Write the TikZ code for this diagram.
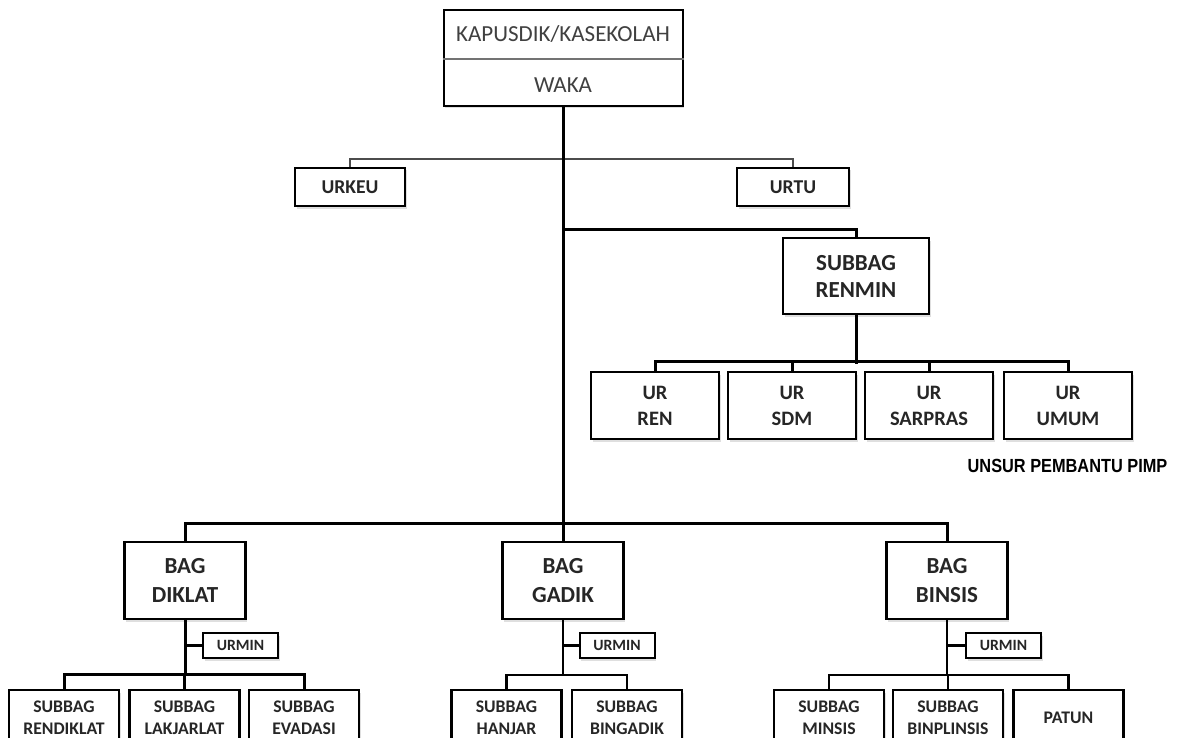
\documentclass[tikz,border=0pt]{standalone}
\usepackage{fontspec}
\usepackage{graphicx}
\setmainfont{Carlito}
\newfontfamily\arialfont{Liberation Sans}
\usetikzlibrary{shadows}
\definecolor{txt}{HTML}{262626}
\begin{document}
\begin{tikzpicture}[x=1pt,y=-1pt,
  bx/.style={draw=black, line width=2.2pt, fill=white, align=center, inner sep=0pt,
    text=txt, font=\bfseries,
    drop shadow={shadow xshift=1.5pt, shadow yshift=-2.5pt, opacity=.25}},
  mainline/.style={line width=3pt, black},
  subline/.style={line width=2.5pt, black},
  thinline/.style={line width=1.3pt, black!70},
  plain/.style={inner sep=0pt, text=black!75}
]
\useasboundingbox (0,0) rectangle (1177,738);
\clip (0,0) rectangle (1177,738);

% top box
\node[bx, line width=2pt, minimum width=239, minimum height=96] (kap) at (563,58) {};
\coordinate (dv) at (0,59);
\draw[line width=1.2pt, black!55] (kap.west |- dv) -- (kap.east |- dv);
\node[plain, font=\fontsize{23}{26}\selectfont] (kapt) at (563,34) {KAPUSDIK/KASEKOLAH};
\node[plain, font=\fontsize{23}{26}\selectfont] (waka) at (563,85) {WAKA};

% URKEU / URTU
\node[bx, minimum width=110, minimum height=38, font=\bfseries\fontsize{19.6}{22}\selectfont] (urkeu) at (350,187) {URKEU};
\node[bx, minimum width=112, minimum height=38, font=\bfseries\fontsize{19.6}{22}\selectfont] (urtu) at (793,187) {URTU};
\draw[thinline] (urkeu.north) -- ++(0,-8) -| (urtu.north);

% SUBBAG RENMIN
\node[bx, minimum width=146, minimum height=76, font=\bfseries\fontsize{23}{27}\selectfont] (renmin) at (856,276) {SUBBAG\\RENMIN};

% UR boxes
\tikzset{ur/.style={bx, minimum width=128, minimum height=67, font=\bfseries\fontsize{20.5}{26}\selectfont}}
\node[ur] (urren) at (655,405.5) {UR\\REN};
\node[ur] (ursdm) at (792,405.5) {UR\\SDM};
\node[ur] (ursarpras) at (929,405.5) {UR\\SARPRAS};
\node[ur] (urumum) at (1068,405.5) {UR\\UMUM};

\node[inner sep=0pt, text=black, font=\arialfont\bfseries\fontsize{19}{20}\selectfont] (unsur) at (1067.5,466) {\scalebox{0.86}[1]{UNSUR PEMBANTU PIMP}};

% BAG boxes
\tikzset{bag/.style={bx, minimum width=121, minimum height=77, font=\bfseries\fontsize{23}{29}\selectfont}}
\node[bag] (diklat) at (185,580.5) {BAG\\DIKLAT};
\node[bag] (gadik) at (563,580.5) {BAG\\GADIK};
\node[bag] (binsis) at (947,580.5) {BAG\\BINSIS};

% URMIN boxes
\tikzset{urmin/.style={bx, line width=2pt, minimum width=75, minimum height=25, font=\bfseries\fontsize{15.7}{16}\selectfont}}
\node[urmin] (urmin1) at (240.5,645.5) {URMIN};
\node[urmin] (urmin2) at (617,645.5) {URMIN};
\node[urmin] (urmin3) at (1003.5,645.5) {URMIN};

% SUBBAG boxes
\tikzset{sub/.style={bx, minimum width=110, minimum height=55, font=\bfseries\fontsize{17.7}{21.5}\selectfont}}
\node[sub] (rendiklat) at (64,717.5) {SUBBAG\\RENDIKLAT};
\node[sub] (lakjarlat) at (184.5,717.5) {SUBBAG\\LAKJARLAT};
\node[sub] (evadasi) at (304,717.5) {SUBBAG\\EVADASI};
\node[sub] (hanjar) at (506.5,717.5) {SUBBAG\\HANJAR};
\node[sub] (bingadik) at (627,717.5) {SUBBAG\\BINGADIK};
\node[sub] (minsis) at (829,717.5) {SUBBAG\\MINSIS};
\node[sub] (binplinsis) at (948,717.5) {SUBBAG\\BINPLINSIS};
\node[sub] (patun) at (1068.5,717.5) {PATUN};

% main trunk
\coordinate (bus) at (563,525);
\draw[mainline] (kap.south) -- (bus);
\coordinate (j1) at (563,229);
\draw[mainline] (j1) -| (renmin.north);

% UR bus
\draw[mainline] (renmin.south) -- ++(0,49);
\draw[mainline] (urren.north) -- ++(0,-9) -| (urumum.north);
\draw[mainline] (ursdm.north) -- ++(0,-9);
\draw[mainline] (ursarpras.north) -- ++(0,-9);

% bottom bus
\draw[mainline] (diklat.north) -- ++(0,-17) -| (binsis.north);
\draw[mainline] (gadik.north) -- (bus);

% DIKLAT branch
\coordinate (dkb) at (185,676);
\draw[mainline] (diklat.south) -- (dkb);
\draw[mainline] (urmin1.west) -- (urmin1.west -| diklat.south);
\draw[mainline] (rendiklat.north) -- ++(0,-14) -| (evadasi.north);
\draw[mainline] (lakjarlat.north) -- ++(0,-14);

% GADIK branch
\coordinate (gdb) at (563,676);
\draw[subline] (gadik.south) -- (gdb);
\draw[subline] (urmin2.west) -- (urmin2.west -| gadik.south);
\draw[subline] (hanjar.north) -- ++(0,-14) -| (bingadik.north);

% BINSIS branch
\coordinate (bsb) at (947,676);
\draw[subline] (binsis.south) -- (bsb);
\draw[subline] (urmin3.west) -- (urmin3.west -| binsis.south);
\draw[subline] (minsis.north) -- ++(0,-14) -| (patun.north);
\draw[subline] (binplinsis.north) -- ++(0,-14);
\end{tikzpicture}
\end{document}
